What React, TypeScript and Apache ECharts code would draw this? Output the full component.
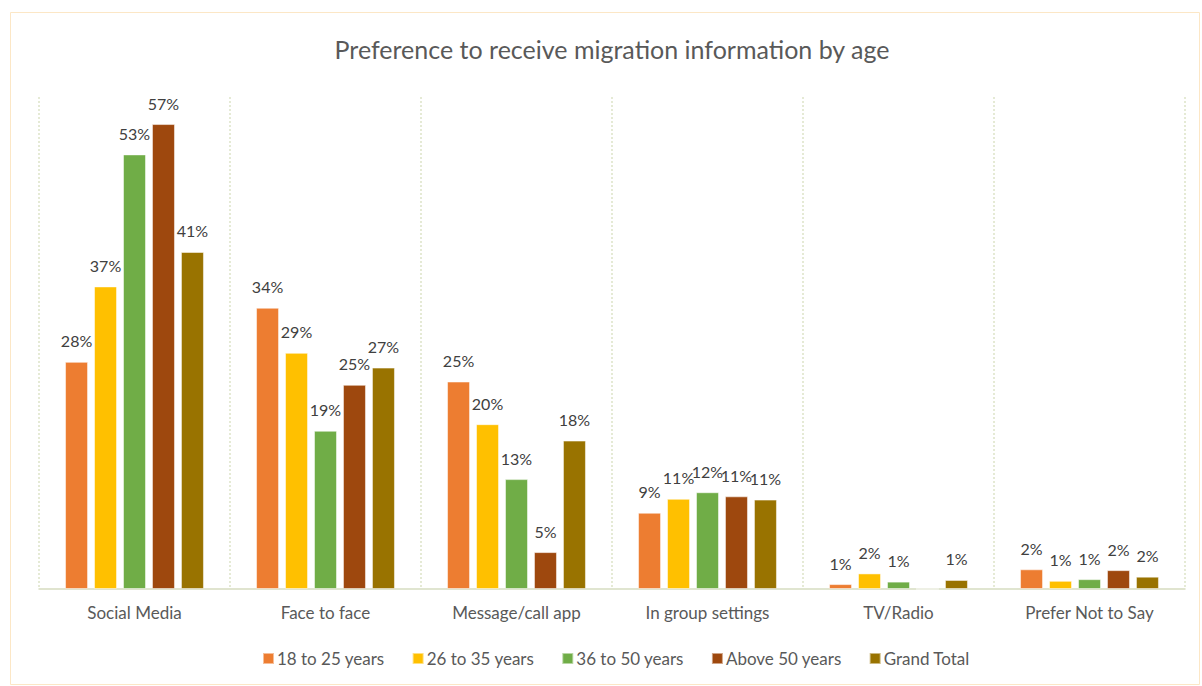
import React, { useEffect, useRef } from "react";
import * as echarts from "echarts";

const categories = ["Social Media", "Face to face", "Message/call app", "In group settings", "TV/Radio", "Prefer Not to Say"];
const seriesNames = ["18 to 25 years", "26 to 35 years", "36 to 50 years", "Above 50 years", "Grand Total"];
const age18to25 = [27.7, 34.3, 25.3, 9.3, 0.6, 2.4];
const age26to35 = [36.9, 28.8, 20.1, 11.0, 1.9, 1.0];
const age36to50 = [53.0, 19.3, 13.4, 11.8, 0.9, 1.2];
const above50 = [56.7, 24.9, 4.5, 11.3, 0, 2.3];
const grandTotal = [41.1, 27.0, 18.1, 10.9, 1.1, 1.5];
const colors = ["#ED7D31", "#FFC000", "#70AD47", "#9E480E", "#997300"];

const FONT = "Lato";

export default function App() {
  const ref = useRef<HTMLDivElement>(null);
  useEffect(() => {
    document.body.style.margin = "0";
    const chart = echarts.init(ref.current!, undefined, { renderer: "svg" });
    const data = [age18to25, age26to35, age36to50, above50, grandTotal];
    chart.setOption({
      animation: false,
      backgroundColor: "#ffffff",
      textStyle: { fontFamily: FONT },
      title: {
        text: "Preference to receive migration information by age",
        left: 607,
        textAlign: "center",
        top: 31,
        textStyle: { fontFamily: FONT, fontSize: 25, fontWeight: "normal", color: "#595959" },
      },
      graphic: [
        {
          type: "rect",
          shape: { x: 10.5, y: 12.5, width: 1189, height: 672 },
          style: { fill: "none", stroke: "#FCE7C6", lineWidth: 1 },
          silent: true,
        },
      ],
      legend: {
        bottom: 14,
        left: 257,
        itemWidth: 11,
        itemHeight: 11,
        itemGap: 27,
        icon: "rect",
        textStyle: { fontFamily: FONT, fontSize: 17, color: "#595959", padding: [0, 0, 0, -2] },
        data: seriesNames,
      },
      grid: { left: 39, right: 17, top: 97, bottom: 97, containLabel: false },
      xAxis: {
        type: "category",
        data: categories,
        axisLine: { lineStyle: { color: "#D6DCC0", width: 1.5 } },
        axisTick: { show: false },
        axisLabel: { fontFamily: FONT, fontSize: 17, color: "#595959", margin: 15 },
        splitLine: { show: true, lineStyle: { color: "#DDE3C8", type: [2, 2], width: 1.5 } },
      },
      yAxis: {
        type: "value",
        min: 0,
        max: 60,
        show: false,
        splitLine: { show: false },
      },
      series: seriesNames.map((name, i) => ({
        name,
        type: "bar",
        data: data[i],
        barWidth: 23,
        barGap: "26%",
        itemStyle: { color: colors[i], borderColor: "rgba(255,255,255,0.5)", borderWidth: 1 },
        label: {
          show: true,
          position: "top",
          distance: 13,
          fontFamily: FONT,
          fontSize: 16,
          color: "#404040",
          formatter: (p: any) => (p.value > 0 ? Math.round(p.value) + "%" : ""),
        },
      })),
    });
    return () => chart.dispose();
  }, []);
  return <div ref={ref} style={{ width: 1202, height: 686 }} />;
}
